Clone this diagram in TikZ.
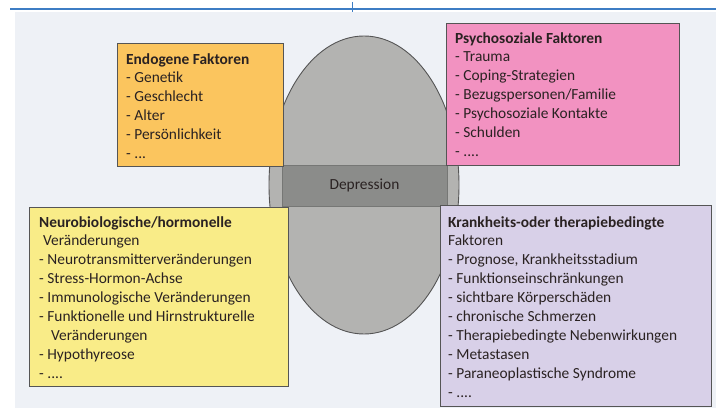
\documentclass[tikz,border=0pt]{standalone}
\usepackage{fontspec}
\usetikzlibrary{shapes.geometric}
\setmainfont{Carlito}
\definecolor{bgc}{HTML}{EEF1F6}
\definecolor{bluel}{HTML}{3D7DC4}
\definecolor{orangec}{HTML}{FBC55E}
\definecolor{pinkc}{HTML}{F292C1}
\definecolor{yellowc}{HTML}{F9EC88}
\definecolor{purplec}{HTML}{D8D0E8}
\definecolor{ellc}{HTML}{B3B3B1}
\definecolor{bandc}{HTML}{8B8C8A}
\definecolor{linec}{HTML}{555555}
\definecolor{txtc}{HTML}{2A2222}
\begin{document}
\begin{tikzpicture}[x=1pt,y=-1pt,
  box/.style={draw=linec, line width=0.8pt, anchor=north west, inner sep=0pt},
  txt/.style={anchor=north west, inner sep=0pt, align=left, text=txtc,
    font=\fontsize{15.4}{18.9}\selectfont}]
\useasboundingbox (0,0) rectangle (716,417);
% background
\fill[bgc] (15,12) rectangle (716,408);
\coordinate (la) at (10,9);
\coordinate (lb) at (716,9);
\coordinate (ta) at (352,2);
\coordinate (tb) at (352,12);
\draw[bluel, line width=1.4pt] (la) -- (lb);
\draw[bluel, line width=1pt] (ta) -- (tb);
% ellipse
\node[draw=linec, line width=0.9pt, fill=ellc, ellipse, minimum width=190pt, minimum height=298pt, inner sep=0pt] (ell) at (364,185) {};
\node[fill=bandc, draw=bandc!85!black, line width=0.4pt, minimum width=165pt, minimum height=41pt, inner sep=0pt, text=txtc, font=\fontsize{15.4}{18.9}\selectfont] (dep) at (364.5,185.5) {Depression};
% boxes
\node[box, fill=orangec, minimum width=166pt, minimum height=123pt] (endo) at (117,43) {};
\node[box, fill=pinkc, minimum width=233pt, minimum height=142pt] (psy) at (446,23) {};
\node[box, fill=yellowc, minimum width=259pt, minimum height=179pt] (neuro) at (29,207) {};
\node[box, fill=purplec, minimum width=271pt, minimum height=201pt] (krank) at (440,205) {};
% texts
\node[txt] (endot) at (126,53) {\textbf{Endogene Faktoren}\\- Genetik\\- Geschlecht\\- Alter\\- Persönlichkeit\\- ...};
\node[txt] (psyt) at (455,32) {\textbf{Psychosoziale Faktoren}\\- Trauma\\- Coping-Strategien\\- Bezugspersonen/Familie\\- Psychosoziale Kontakte\\- Schulden\\- ....};
\node[txt] (neurot) at (39,216) {\textbf{Neurobiologische/hormonelle}\\\hspace*{4pt}Veränderungen\\- Neurotransmitterveränderungen\\- Stress-Hormon-Achse\\- Immunologische Veränderungen\\- Funktionelle und Hirnstrukturelle\\\hspace*{12pt}Veränderungen\\- Hypothyreose\\- ....};
\node[txt] (krankt) at (448,216) {\textbf{Krankheits-oder therapiebedingte}\\Faktoren\\- Prognose, Krankheitsstadium\\- Funktionseinschränkungen\\- sichtbare Körperschäden\\- chronische Schmerzen\\- Therapiebedingte Nebenwirkungen\\- Metastasen\\- Paraneoplastische Syndrome\\- ....};
\end{tikzpicture}
\end{document}
